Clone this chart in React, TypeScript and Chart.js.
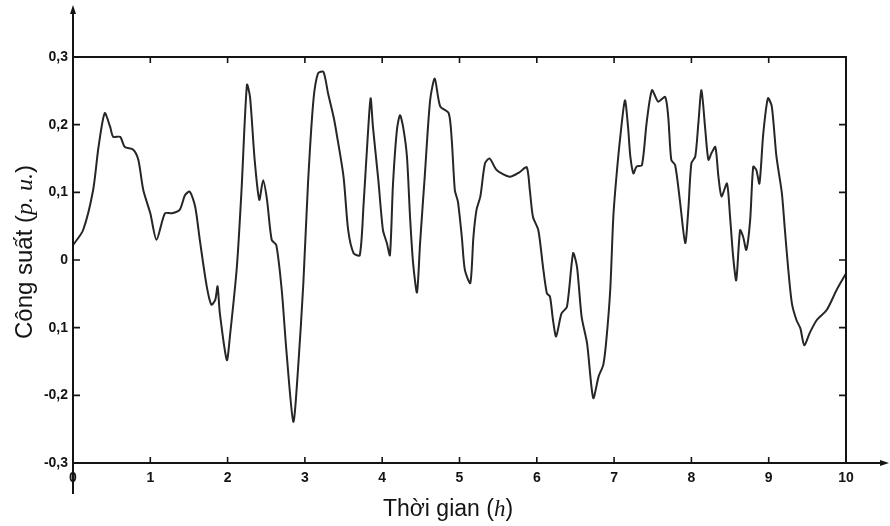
import React, { useEffect, useRef } from "react";
import { Chart, registerables } from "chart.js";

Chart.register(...registerables);

const times: number[] = [
  0.0, 0.13, 0.26, 0.33, 0.41, 0.48, 0.52, 0.61, 0.67, 0.78, 0.845, 0.91, 1.0, 1.08, 1.19, 1.28, 1.38, 1.45, 1.51, 1.58,
  1.64, 1.73, 1.79, 1.84, 1.87, 1.9, 1.99, 2.03, 2.12, 2.18, 2.25, 2.29, 2.35, 2.41, 2.46, 2.51, 2.57, 2.63, 2.7, 2.76,
  2.85, 2.91, 2.98, 3.04, 3.11, 3.17, 3.24, 3.3, 3.37, 3.41, 3.5, 3.56, 3.63, 3.71, 3.76, 3.81, 3.85, 3.88, 3.95, 4.01,
  4.06, 4.1, 4.14, 4.19, 4.23, 4.27, 4.32, 4.36, 4.4, 4.45, 4.49, 4.55, 4.62, 4.68, 4.75, 4.86, 4.9, 4.94, 4.98, 5.03,
  5.07, 5.14, 5.18, 5.22, 5.27, 5.33, 5.39, 5.48, 5.65, 5.78, 5.87, 5.91, 5.95, 6.02, 6.08, 6.13, 6.17, 6.21, 6.25, 6.32,
  6.39, 6.47, 6.52, 6.58, 6.65, 6.73, 6.8, 6.86, 6.9, 6.95, 6.99, 7.03, 7.08, 7.14, 7.18, 7.21, 7.25, 7.29, 7.36, 7.42,
  7.49, 7.57, 7.66, 7.7, 7.74, 7.79, 7.85, 7.92, 7.96, 8.0, 8.05, 8.09, 8.13, 8.18, 8.22, 8.26, 8.31, 8.35, 8.39, 8.46,
  8.5, 8.54, 8.58, 8.63, 8.67, 8.71, 8.76, 8.8, 8.84, 8.88, 8.93, 8.99, 9.04, 9.1, 9.17, 9.21, 9.25, 9.3, 9.36, 9.41,
  9.46, 9.53, 9.62, 9.75, 9.88, 10.0,
];

const power: number[] = [
  0.022, 0.044, 0.103, 0.167, 0.217, 0.197, 0.182, 0.182, 0.167, 0.163, 0.148, 0.103, 0.069, 0.03, 0.069, 0.069, 0.074, 0.096, 0.101, 0.079,
  0.03, -0.039, -0.066, -0.059, -0.039, -0.079, -0.148, -0.113, -0.01, 0.103, 0.259, 0.241, 0.148, 0.089, 0.118, 0.089, 0.03, 0.022, -0.044, -0.133,
  -0.239, -0.163, -0.034, 0.113, 0.236, 0.276, 0.278, 0.246, 0.212, 0.187, 0.123, 0.044, 0.01, 0.007, 0.084, 0.177, 0.239, 0.197, 0.118, 0.044,
  0.025, 0.007, 0.113, 0.192, 0.214, 0.197, 0.153, 0.064, -0.005, -0.048, 0.025, 0.123, 0.236, 0.268, 0.227, 0.217, 0.177, 0.103, 0.086, 0.034,
  -0.015, -0.034, 0.034, 0.074, 0.094, 0.143, 0.15, 0.133, 0.123, 0.13, 0.137, 0.103, 0.064, 0.044, -0.01, -0.049, -0.054, -0.089, -0.113, -0.079,
  -0.069, 0.01, -0.01, -0.084, -0.123, -0.204, -0.172, -0.155, -0.118, -0.044, 0.064, 0.123, 0.182, 0.236, 0.197, 0.153, 0.128, 0.138, 0.14, 0.202,
  0.251, 0.234, 0.241, 0.212, 0.148, 0.14, 0.089, 0.025, 0.074, 0.143, 0.153, 0.202, 0.251, 0.192, 0.148, 0.158, 0.167, 0.123, 0.094, 0.113,
  0.064, 0.005, -0.03, 0.044, 0.034, 0.015, 0.059, 0.138, 0.133, 0.113, 0.187, 0.239, 0.227, 0.153, 0.099, 0.044, -0.01, -0.064, -0.089, -0.101,
  -0.126, -0.108, -0.089, -0.074, -0.044, -0.02,
];

const yTickValues: number[] = [-0.3, -0.2, -0.1, 0, 0.1, 0.2, 0.3];
const yTickLabels: string[] = ["-0,3", "-0,2", "0,1", "0", "0,1", "0,2", "0,3"];
const xTickValues: number[] = [0, 1, 2, 3, 4, 5, 6, 7, 8, 9, 10];
const xTickLabels: string[] = ["0", "1", "2", "3", "4", "5", "6", "7", "8", "9", "10"];

const yTitleParts: [string, boolean][] = [["Công suất ", false], ["(", false], ["p. u.", true], [")", false]];
const xTitleParts: [string, boolean][] = [["Thời gian ", false], ["(", false], ["h", true], [")", false]];

const INK = "#141414";
const SANS = '"Liberation Sans", Arial, sans-serif';
const SERIF = '"Liberation Serif", "Times New Roman", serif';

function drawParts(ctx: CanvasRenderingContext2D, parts: [string, boolean][], size: number) {
  const fontFor = (it: boolean) => (it ? `italic ${size}px ${SERIF}` : `${size}px ${SANS}`);
  let total = 0;
  for (const [t, it] of parts) {
    ctx.font = fontFor(it);
    total += ctx.measureText(t).width;
  }
  let x = -total / 2;
  for (const [t, it] of parts) {
    ctx.font = fontFor(it);
    ctx.fillText(t, x, 0);
    x += ctx.measureText(t).width;
  }
}

const framePlugin = {
  id: "frame",
  afterDraw(chart: any) {
    const { ctx, chartArea, scales } = chart;
    const { left, right, top, bottom } = chartArea;
    const xs = scales.x;
    const ys = scales.y;
    ctx.save();
    ctx.strokeStyle = INK;
    ctx.fillStyle = INK;
    ctx.lineWidth = 2;
    ctx.beginPath();
    ctx.moveTo(left, 12);
    ctx.lineTo(left, bottom + 31);
    ctx.moveTo(left, bottom);
    ctx.lineTo(chart.width - 4, bottom);
    ctx.moveTo(left, top);
    ctx.lineTo(right, top);
    ctx.lineTo(right, bottom);
    ctx.stroke();
    ctx.beginPath();
    ctx.moveTo(left, 5);
    ctx.lineTo(left - 3, 14);
    ctx.lineTo(left + 3, 14);
    ctx.closePath();
    ctx.fill();
    ctx.beginPath();
    ctx.moveTo(chart.width - 1, bottom);
    ctx.lineTo(chart.width - 10, bottom - 3);
    ctx.lineTo(chart.width - 10, bottom + 3);
    ctx.closePath();
    ctx.fill();
    ctx.lineWidth = 1.6;
    ctx.beginPath();
    for (const v of xTickValues) {
      if (v === 0 || v === 10) continue;
      const px = xs.getPixelForValue(v);
      ctx.moveTo(px, bottom);
      ctx.lineTo(px, bottom - 6);
      ctx.moveTo(px, top);
      ctx.lineTo(px, top + 6);
    }
    for (const v of yTickValues) {
      if (Math.abs(v) > 0.29) continue;
      const py = ys.getPixelForValue(v);
      ctx.moveTo(left, py);
      ctx.lineTo(left + 7, py);
      ctx.moveTo(right, py);
      ctx.lineTo(right - 7, py);
    }
    ctx.stroke();
    ctx.textBaseline = "alphabetic";
    ctx.textAlign = "left";
    ctx.save();
    ctx.translate(32, 252);
    ctx.rotate(-Math.PI / 2);
    drawParts(ctx, yTitleParts, 24);
    ctx.restore();
    ctx.save();
    ctx.translate(448, 516);
    drawParts(ctx, xTitleParts, 23);
    ctx.restore();
    ctx.restore();
  },
};

export default function App() {
  const ref = useRef<HTMLCanvasElement | null>(null);
  useEffect(() => {
    if (!ref.current) return;
    const chart = new Chart(ref.current, {
      type: "line",
      data: {
        datasets: [
          {
            data: times.map((t, i) => ({ x: t, y: power[i] })),
            borderColor: "#262626",
            borderWidth: 2,
            pointRadius: 0,
            tension: 0.25,
            fill: false,
          },
        ],
      },
      options: {
        animation: false,
        responsive: false,
        maintainAspectRatio: false,
        layout: { padding: { left: 0, top: 57, right: 44, bottom: 0 } },
        plugins: { legend: { display: false }, tooltip: { enabled: false }, title: { display: false } },
        scales: {
          x: {
            type: "linear",
            min: 0,
            max: 10,
            afterFit: (s: any) => {
              s.height = 63;
            },
            afterBuildTicks: (s: any) => {
              s.ticks = xTickValues.map((v) => ({ value: v }));
            },
            grid: { display: false, drawTicks: false },
            border: { display: false },
            ticks: {
              padding: 7,
              maxRotation: 0,
              autoSkip: false,
              color: INK,
              font: { family: SANS, size: 14, weight: "bold" },
              callback: (v: any) => {
                const i = xTickValues.indexOf(Number(v));
                return i >= 0 ? xTickLabels[i] : "";
              },
            },
          },
          y: {
            type: "linear",
            min: -0.3,
            max: 0.3,
            afterFit: (s: any) => {
              s.width = 73;
            },
            afterBuildTicks: (s: any) => {
              s.ticks = yTickValues.map((v) => ({ value: v }));
            },
            grid: { display: false, drawTicks: false },
            border: { display: false },
            ticks: {
              padding: 5,
              autoSkip: false,
              color: INK,
              font: { family: SANS, size: 14, weight: "bold" },
              callback: (v: any) => {
                const i = yTickValues.findIndex((t) => Math.abs(t - Number(v)) < 1e-6);
                return i >= 0 ? yTickLabels[i] : "";
              },
            },
          },
        },
      },
      plugins: [framePlugin],
    });
    return () => chart.destroy();
  }, []);
  return (
    <div style={{ position: "fixed", left: 0, top: 0, width: 890, height: 526, background: "#fff" }}>
      <canvas ref={ref} width={890} height={526} style={{ display: "block", width: 890, height: 526 }} />
    </div>
  );
}
